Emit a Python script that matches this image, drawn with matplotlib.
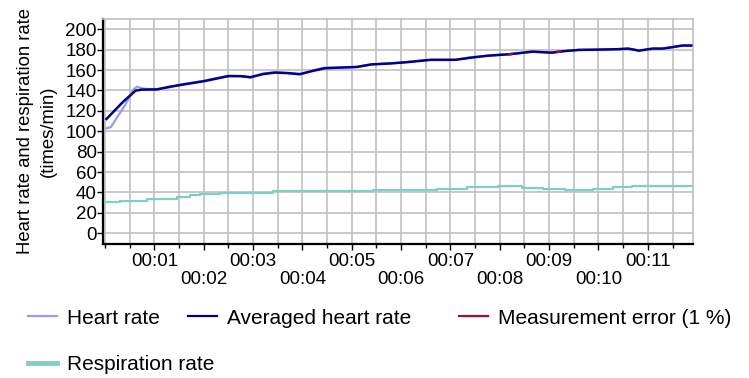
import numpy as np
import matplotlib
matplotlib.use("Agg")
import matplotlib.pyplot as plt
from matplotlib.lines import Line2D

plt.rcParams['font.family'] = ['Liberation Sans', 'DejaVu Sans']

# ---- data (time in minutes) ----
hr_t = [0.03, 0.12, 0.25, 0.40, 0.50, 0.58, 0.65, 0.75, 0.85, 1.05, 1.30, 1.55, 2.00, 2.50,
        2.75, 2.95, 3.20, 3.45, 3.70, 3.95, 4.20, 4.45, 4.80, 5.10, 5.40, 5.80, 6.10, 6.60,
        7.10, 7.40, 7.75, 8.20, 8.66, 9.05, 9.30, 9.60, 10.00, 10.40, 10.60, 10.82, 11.10,
        11.30, 11.50, 11.70, 11.88]
hr_v = [103, 104, 114, 125, 134, 141, 143.7, 142, 141.5, 141, 143, 146, 149.5, 154.5,
        154, 152.5, 156.5, 158, 157, 155.5, 159.5, 162.5, 162, 163, 165.5, 166.5, 167.8, 170,
        170, 172.5, 174, 175.5, 178, 177, 178.5, 179.7, 180, 180.6, 181, 179, 181,
        181, 182.6, 184, 184]

avg_t = [0.03, 0.37, 0.62, 0.75, 1.05, 1.30, 1.55, 2.00, 2.50, 2.75, 2.95, 3.20, 3.45, 3.70,
         3.95, 4.20, 4.45, 4.80, 5.10, 5.40, 5.80, 6.10, 6.60, 7.10, 7.40, 7.75, 8.20, 8.66,
         9.05, 9.30, 9.60, 10.00, 10.40, 10.60, 10.82, 11.10, 11.30, 11.50, 11.70, 11.88]
avg_v = [112, 129, 139.8, 140.8, 141, 143.5, 145.5, 149, 154, 154, 153, 156, 157.5, 157,
         156, 159, 161.7, 162.5, 163, 165.5, 166.5, 167.6, 170, 170, 172, 174, 175.5, 178,
         177, 178.5, 179.7, 180, 180.4, 181, 179, 181, 181, 182.4, 184, 184]

err_t = [8.19, 8.24, np.nan, 9.17, 9.22]
err_v = [175.4, 175.7, np.nan, 177.8, 178.0]

resp_t = [0.0, 0.30, 0.85, 1.11, 1.46, 1.72, 1.93, 2.33, 3.40, 5.43, 6.73, 7.34, 7.96,
          8.45, 8.88, 9.32, 9.89, 10.29, 10.68, 11.90]
resp_v = [31, 32, 33.3, 34, 36, 37.5, 38.5, 39.7, 41, 42, 43.7, 45, 46.7,
          44.7, 43.4, 42.5, 43.7, 45, 46.4, 46.4]

y_ticks = list(range(0, 201, 20))
x_major = list(range(1, 12))
x_labels = ["00:%02d" % m if m % 2 == 1 else "\n00:%02d" % m for m in x_major]

legend_labels = ["Heart rate", "Averaged heart rate", "Measurement error (1 %)", "Respiration rate"]

# ---- colours ----
c_hr = '#9a9af2'
c_avg = '#00008c'
c_err = '#9e1030'
c_resp = '#80d0c2'
c_grid = '#c0c0c0'

fig = plt.figure(figsize=(7.49, 3.78), dpi=100)
ax = fig.add_axes([103/749, 1-244/378, (693-103)/749, (244-19)/378])

ax.plot(resp_t, resp_v, color=c_resp, lw=1.6, drawstyle='steps-post', zorder=3)
ax.plot(hr_t, hr_v, color=c_hr, lw=1.6, zorder=3)
ax.plot(avg_t, avg_v, color=c_avg, lw=1.8, zorder=4)
ax.plot(err_t, err_v, color=c_err, lw=1.8, zorder=5)

ax.set_xlim(-0.04, 11.915)
ax.set_ylim(-10.5, 210)

ax.set_yticks(y_ticks)
ax.set_xticks(x_major)
ax.set_xticklabels(x_labels, linespacing=1.05)
ax.set_xticks(np.arange(0, 12, 0.5), minor=True)

ax.grid(True, which='both', color=c_grid, lw=1.2, zorder=0)
ax.set_axisbelow(True)

ax.tick_params(axis='both', which='both', direction='out', color='black', labelsize=13.5)
ax.tick_params(axis='x', which='major', length=4, width=1, pad=2.5)
ax.tick_params(axis='x', which='minor', length=3, width=1)
ax.tick_params(axis='y', which='major', length=4, width=1, pad=0.5)

for s in ['top', 'right']:
    ax.spines[s].set_color(c_grid)
    ax.spines[s].set_linewidth(1.2)
for s in ['left', 'bottom']:
    ax.spines[s].set_color('black')
    ax.spines[s].set_linewidth(1.6)

ax.set_ylabel("Heart rate and respiration rate\n(times/min)", fontsize=13.3, labelpad=6,
              linespacing=1.45)

# ---- legend (flow layout) ----
handles = [Line2D([], [], color=c_hr, lw=1.6),
           Line2D([], [], color=c_avg, lw=1.6),
           Line2D([], [], color=c_err, lw=1.6),
           Line2D([], [], color=c_resp, lw=3.5)]
positions = [(28, 318), (188, 318), (459, 318), (28, 365)]
for h, lab, (px, py) in zip(handles, legend_labels, positions):
    fig.legend([h], [lab], loc='center left', bbox_to_anchor=(px/749, 1-py/378),
               frameon=False, fontsize=15, handlelength=1.4, handletextpad=0.45,
               borderpad=0, borderaxespad=0)

fig.savefig("out.png", dpi=100)
